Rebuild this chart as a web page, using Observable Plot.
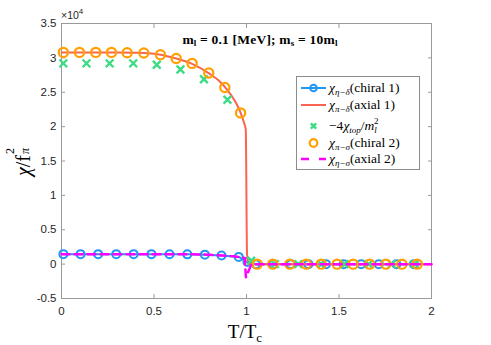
<!DOCTYPE html>
<html>
<head>
<meta charset="utf-8">
<script src="https://cdn.jsdelivr.net/npm/d3@7"></script>
<script src="https://cdn.jsdelivr.net/npm/@observablehq/plot@0.6"></script>
<style>
  body { margin: 0; background: #fff; }
  #wrap { position: relative; width: 491px; height: 345px; overflow: hidden; }
  .ov { position: absolute; white-space: nowrap; font-family: "Liberation Serif", "DejaVu Serif", serif; color: #000; line-height: 1; }
  .ov sub, .ov sup { line-height: 0; }
  #legend { position: absolute; left: 296px; top: 76px; width: 122px; height: 92px; border: 1px solid #8c8c8c; background: #fff; }
  .row { position: absolute; left: 0; height: 18px; display: flex; align-items: center; font-family: "Liberation Serif", "DejaVu Serif", serif; font-size: 13.5px; white-space: nowrap; }
  .row svg { flex: none; margin-right: 2px; }
  .row sub { font-size: 9px; font-style: italic; vertical-align: -3px; line-height: 0; }
  .row sup { font-size: 9px; font-style: italic; vertical-align: 6px; line-height: 0; }
  .ch { font-style: italic; }
  .stack { position: relative; display: inline-block; width: 9px; height: 1em; }
  .stack span { position: absolute; left: 1px; font-size: 12px; line-height: 1; }
</style>
</head>
<body>
<div id="wrap"></div>
<script>
// ---- data (y values in absolute units; axis shows ×10^4) ----
const xTicks = [0, 0.5, 1, 1.5, 2];
const yTicks = [-5000, 0, 5000, 10000, 15000, 20000, 25000, 30000, 35000];

// chi_{eta-delta} (chiral 1) — blue circles + line
const tBlue = [0.01, 0.103, 0.198, 0.296, 0.39, 0.486, 0.584, 0.68, 0.775, 0.865, 0.958, 1.005, 1.05, 1.145, 1.24, 1.335, 1.43, 1.525, 1.62, 1.715, 1.81, 1.905];
const vBlue = [1450, 1450, 1450, 1450, 1450, 1450, 1440, 1420, 1380, 1250, 1050, 300, 0, 0, 0, 0, 0, 0, 0, 0, 0, 0];

// chi_{pi-delta} (axial 1) — red line
const tRed = [0, 0.1, 0.2, 0.3, 0.4, 0.5, 0.6, 0.7, 0.8, 0.85, 0.9, 0.95, 0.97, 0.985, 0.996, 1.003, 1.013, 1.5, 2.0];
const vRed = [30800, 30800, 30800, 30800, 30750, 30600, 30050, 29200, 27700, 26700, 25200, 23100, 21900, 20700, 19600, 1400, 0, 0, 0];

// -4 chi_top / m_l^2 — green crosses
const tGreen = [0.01, 0.135, 0.26, 0.388, 0.515, 0.643, 0.77, 0.897, 1.025, 1.153, 1.28, 1.405, 1.53, 1.66, 1.785, 1.91];
const vGreen = [29200, 29200, 29200, 29200, 29000, 28300, 26900, 23900, 500, 0, 0, 0, 0, 0, 0, 0];

// chi_{pi-sigma} (chiral 2) — orange circles
const tOrange = [0.01, 0.097, 0.185, 0.27, 0.355, 0.445, 0.535, 0.62, 0.706, 0.796, 0.883, 0.968, 1.058, 1.142, 1.234, 1.323, 1.404, 1.49, 1.577, 1.666, 1.753, 1.84, 1.923];
const vOrange = [30800, 30800, 30800, 30800, 30750, 30700, 30450, 29900, 29200, 27800, 25700, 22000, 0, 0, 0, 0, 0, 0, 0, 0, 0, 0, 0];

// chi_{eta-sigma} (axial 2) — magenta dashed line
const tMag = [0, 0.2, 0.4, 0.6, 0.7, 0.8, 0.87, 0.93, 0.97, 0.99, 0.997, 1.027, 1.3, 1.6, 2.0];
const vMag = [1450, 1450, 1450, 1440, 1420, 1370, 1250, 1130, 1000, 900, -1900, 0, 0, 0, 0];

const C = { blue: "#2196f3", red: "#fa6450", green: "#3ddc84", orange: "#ffa000", mag: "#ff00ff" };

const tbl = (T, V) => T.map((t, i) => ({ t, v: V[i] }));
const blue = tbl(tBlue, vBlue), red = tbl(tRed, vRed), green = tbl(tGreen, vGreen),
      orange = tbl(tOrange, vOrange), mag = tbl(tMag, vMag);

const axC = "#262626";
const chart = Plot.plot({
  width: 491, height: 345,
  marginLeft: 61, marginRight: 60, marginTop: 23, marginBottom: 47,
  x: { domain: [0, 2], axis: null },
  y: { domain: [-5000, 35000], axis: null },
  style: { fontFamily: "Liberation Sans, Arial, sans-serif", fontSize: "11px", background: "#fff" },
  marks: [
    Plot.frame({ stroke: "#9a9a9a" }),
    Plot.axisX(xTicks, { anchor: "bottom", tickSize: -4, tickPadding: 12, tickFormat: d => String(d), color: axC, stroke: "#9a9a9a", label: null, fontSize: 11.5 }),
    Plot.axisX(xTicks, { anchor: "top", tickSize: -4, tickFormat: () => "", stroke: "#9a9a9a", label: null }),
    Plot.axisY(yTicks, { anchor: "left", tickSize: -4, tickPadding: 9, tickFormat: d => String(d / 10000), color: axC, stroke: "#9a9a9a", label: null, fontSize: 11.5 }),
    Plot.axisY(yTicks, { anchor: "right", tickSize: -4, tickFormat: () => "", stroke: "#9a9a9a", label: null }),
    Plot.line(blue, { x: "t", y: "v", stroke: C.blue, strokeWidth: 2 }),
    Plot.dot(blue, { x: "t", y: "v", r: 4, stroke: C.blue, strokeWidth: 2, fill: "none" }),
    Plot.line(red, { x: "t", y: "v", stroke: C.red, strokeWidth: 2, curve: "monotone-x" }),
    Plot.dot(green, { x: "t", y: "v", symbol: "times", r: 3.6, stroke: C.green, strokeWidth: 2.4 }),
    Plot.dot(orange, { x: "t", y: "v", r: 4.6, stroke: C.orange, strokeWidth: 2.2, fill: "none" }),
    Plot.line(mag, { x: "t", y: "v", stroke: C.mag, strokeWidth: 2.5, strokeDasharray: "8,5" })
  ]
});

const wrap = document.getElementById("wrap");
wrap.appendChild(chart);

function ov(html, css) {
  const d = document.createElement("div");
  d.className = "ov";
  d.innerHTML = html;
  Object.assign(d.style, css);
  wrap.appendChild(d);
  return d;
}

// exponent
ov('×10<sup style="font-size:8px;vertical-align:5px">4</sup>', { left: "61px", top: "10px", fontFamily: "Liberation Sans, Arial, sans-serif", fontSize: "10.5px", color: "#262626" });

// title
ov('<b>m<sub style="font-size:9px;vertical-align:-2px">l</sub> = 0.1 [MeV]; m<sub style="font-size:9px;vertical-align:-2px">s</sub> = 10m<sub style="font-size:9px;vertical-align:-2px">l</sub></b>',
   { left: "260px", top: "40px", transform: "translate(-50%,-50%)", fontSize: "13.5px", letterSpacing: "0.2px" });

// x label
ov('T/T<sub style="font-size:13px;vertical-align:-4px">c</sub>', { left: "245px", top: "322px", transform: "translateX(-50%)", fontSize: "19px" });

// y label
ov('<i>χ</i>/f<span class="stack"><span style="top:-6px">2</span><span style="top:9px"><i>π</i></span></span>',
   { left: "21px", top: "161px", transform: "translate(-50%,-50%) rotate(-90deg)", fontSize: "20px", padding: "4px 0" });

// legend
const legend = document.createElement("div");
legend.id = "legend";
wrap.appendChild(legend);
const sw = (inner) => `<svg width="28" height="14" viewBox="0 0 28 14">${inner}</svg>`;
const rows = [
  { c: 10.7, sym: sw(`<line x1="2" y1="7" x2="27" y2="7" stroke="${C.blue}" stroke-width="2"/><circle cx="14.5" cy="7" r="3.3" fill="none" stroke="${C.blue}" stroke-width="2"/>`),
    txt: '<span class="ch">χ</span><sub>η−δ</sub>(chiral 1)' },
  { c: 28.3, sym: sw(`<line x1="2" y1="7" x2="27" y2="7" stroke="${C.red}" stroke-width="2"/>`),
    txt: '<span class="ch">χ</span><sub>π−δ</sub>(axial 1)' },
  { c: 49, sym: sw(`<path d="M11.8,4.3L17.2,9.7M17.2,4.3L11.8,9.7" stroke="${C.green}" stroke-width="2.4"/>`),
    txt: '−4<span class="ch">χ</span><sub>top</sub>/<span class="ch">m</span><sub style="vertical-align:-3px">l</sub><sup style="margin-left:-3px;font-style:normal">2</sup>' },
  { c: 65.7, sym: sw(`<circle cx="14.5" cy="7" r="3.8" fill="none" stroke="${C.orange}" stroke-width="2.2"/>`),
    txt: '<span class="ch">χ</span><sub>π−σ</sub>(chiral 2)' },
  { c: 82.3, sym: sw(`<line x1="2" y1="7" x2="27" y2="7" stroke="${C.mag}" stroke-width="2.5" stroke-dasharray="8,10"/>`),
    txt: '<span class="ch">χ</span><sub>η−σ</sub>(axial 2)' }
];
rows.forEach(r => {
  const d = document.createElement("div");
  d.className = "row";
  d.style.top = (r.c - 9) + "px";
  d.style.left = "2px";
  d.innerHTML = r.sym + '<span>' + r.txt + '</span>';
  legend.appendChild(d);
});
</script>
</body>
</html>
